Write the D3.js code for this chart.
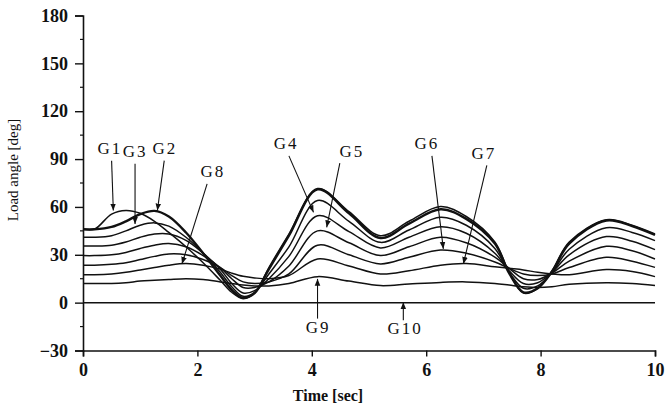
<!DOCTYPE html>
<html lang="en">
<head>
<meta charset="UTF-8">
<title>Load angle</title>
<style>
  body { margin: 0; background: #fff; }
  svg { display: block; }
  .tick text { font-family: 'Liberation Serif', serif; font-weight: bold; font-size: 18px; fill: #111; }
  .lbl { font-family: 'Liberation Serif', serif; font-size: 17px; fill: #111; letter-spacing: 2px; }
</style>
</head>
<body>
<svg id="chart" width="666" height="408"></svg>
<script src="https://d3js.org/d3.v7.min.js"></script>
<script>
// time grid (sec) for the read-off points
const times = [0, 0.2, 0.5, 0.75, 1.0, 1.25, 1.5, 1.8, 2.1, 2.4, 2.6, 2.8, 3.0, 3.25, 3.6, 4.1, 4.65, 5.2, 5.7, 6.25, 6.7, 7.2, 7.45, 7.7, 7.95, 8.2, 8.5, 9.15, 9.6, 10];

// load angle [deg] of each generator curve
const g1  = [46, 46, 55.5, 57.8, 56, 51, 44, 35, 25, 14, 6.5, 2.5, 6, 22, 43, 71.5, 57, 42, 51, 60.2, 54, 38, 19, 6, 9, 20, 38, 52, 48.5, 43];
const g2  = [46, 46, 47.5, 51, 55.5, 57.5, 54, 44, 31, 17, 8, 3, 6, 21, 42, 71, 56, 40.5, 49.5, 58.5, 52.5, 37, 18.5, 6.5, 9, 19.5, 37, 51.5, 48, 42.4];
const g3  = [41, 41, 42, 45, 48.5, 50, 48, 41, 31, 19, 10, 4, 6.5, 18, 35, 64, 51, 37.8, 45.5, 53.5, 48.5, 34, 19, 9, 10.5, 19, 33.5, 47, 44, 38.9];
const g4  = [35.5, 35.5, 36, 38, 41, 43, 43, 39, 31, 21, 12, 6, 7.5, 15, 29, 54.5, 44.5, 34.3, 41, 47.6, 43.5, 31, 20, 12, 12.5, 19, 30, 41.4, 38.5, 33.2];
const g5  = [29.5, 29.5, 30, 31.5, 34, 36, 37, 35, 29.5, 22, 15, 9.5, 9.5, 13, 23, 45, 37.5, 29.5, 35, 41, 37.5, 28.5, 21.5, 15, 14.5, 18.5, 26, 35.3, 32.5, 27.4];
const g6  = [23.5, 23.5, 24, 25, 27, 29, 30.5, 30, 27, 22, 17, 13, 12, 13, 18, 36, 30, 24.3, 28.5, 33, 31, 25.5, 21.5, 18, 17, 18, 22, 28.4, 26, 22.1];
const g8  = [17.5, 17.5, 18, 19, 20.5, 22, 23.5, 24.5, 23.5, 21, 18.5, 16.5, 15.5, 15, 17, 27.4, 23, 18, 20, 23.5, 24.5, 22.5, 21.5, 20.5, 19, 18, 17.5, 20.7, 19.5, 16.3];
const g9  = [12, 12, 12, 12.5, 13.5, 14, 14.5, 15, 14.5, 13, 12, 11, 10.5, 10.5, 12, 16.3, 13.5, 10.7, 11.7, 12.7, 13, 12, 11, 10, 9.5, 10, 11.5, 12.5, 12, 10.7];
const g10 = [0, 0, 0, 0, 0, 0, 0, 0, 0, 0, 0, 0, 0, 0, 0, 0, 0, 0, 0, 0, 0, 0, 0, 0, 0, 0, 0, 0, 0, 0];

const seriesList = [g10, g9, g8, g6, g5, g4, g3, g1, g2];
const thickSeries = [g2];

const xTicks = [0, 2, 4, 6, 8, 10];
const yTicks = [-30, 0, 30, 60, 90, 120, 150, 180];

// labels: text, label position (t, deg), arrow from (t, deg) to tip (t, deg)
const labels = ["G1", "G3", "G2", "G8", "G4", "G5", "G6", "G7", "G9", "G10"];
const labelPos = [[0.47, 95.5], [0.91, 93.5], [1.43, 95.5], [2.27, 81], [3.55, 98.5], [4.7, 94], [6.01, 98.5], [7.01, 92.2], [4.11, -16.5], [5.63, -17.5]];
const arrowFrom = [[0.5, 89], [0.91, 87], [1.42, 89], [2.17, 74.5], [3.6, 92], [4.49, 87.5], [6.1, 92], [7.06, 86], [4.1, -10], [5.6, -11]];
const arrowTip = [[0.53, 57.7], [0.91, 49.3], [1.3, 57.7], [1.73, 24.3], [4.03, 56.6], [4.26, 47.2], [6.3, 33.7], [6.65, 24.3], [4.1, 14.9], [5.6, 0.3]];

const svg = d3.select("#chart");
const x = d3.scaleLinear().domain([0, 10]).range([83, 655]);
const y = d3.scaleLinear().domain([-30, 180]).range([350.5, 15.5]);

// axes
const xAxis = d3.axisBottom(x).tickValues(xTicks).tickSize(6).tickPadding(4).tickFormat(d3.format("d"));
const yAxis = d3.axisLeft(y).tickValues(yTicks).tickSize(8).tickPadding(7).tickFormat(d3.format("d"));

const gx = svg.append("g").attr("transform", `translate(0,${y(-30)})`).call(xAxis);
const gy = svg.append("g").attr("transform", `translate(${x(0)},0)`).call(yAxis);
[gx, gy].forEach(g => {
  g.select(".domain").attr("stroke", "#111").attr("stroke-width", 1.6);
  g.selectAll(".tick line").attr("stroke", "#111").attr("stroke-width", 1.4);
});
gx.selectAll(".tick text").attr("dy", "0.85em");

// minor ticks
const minorY = d3.range(-15, 180, 30);
svg.append("g").selectAll("line").data(minorY).join("line")
  .attr("x1", x(0) - 3).attr("x2", x(0)).attr("y1", d => y(d)).attr("y2", d => y(d))
  .attr("stroke", "#111").attr("stroke-width", 1.2);

// curves
const line = d3.line().x((d, i) => x(times[i])).y(d => y(d)).curve(d3.curveCatmullRom.alpha(0.5));
svg.append("g").selectAll("path").data(seriesList).join("path")
  .attr("d", line)
  .attr("fill", "none")
  .attr("stroke", "#111")
  .attr("stroke-width", d => thickSeries.includes(d) ? 2.4 : 1.5);

// arrows
svg.append("defs").append("marker")
  .attr("id", "ah").attr("viewBox", "0 0 10 10").attr("refX", 10).attr("refY", 5)
  .attr("markerWidth", 7).attr("markerHeight", 7).attr("markerUnits", "userSpaceOnUse")
  .attr("orient", "auto")
  .append("path").attr("d", "M0,1 L10,5 L0,9 Z").attr("fill", "#111");

svg.append("g").selectAll("line").data(labels).join("line")
  .attr("x1", (d, i) => x(arrowFrom[i][0])).attr("y1", (d, i) => y(arrowFrom[i][1]))
  .attr("x2", (d, i) => x(arrowTip[i][0])).attr("y2", (d, i) => y(arrowTip[i][1]))
  .attr("stroke", "#111").attr("stroke-width", 1.1)
  .attr("marker-end", "url(#ah)");

svg.append("g").selectAll("text").data(labels).join("text")
  .attr("class", "lbl")
  .attr("x", (d, i) => x(labelPos[i][0])).attr("y", (d, i) => y(labelPos[i][1]))
  .attr("text-anchor", "middle").attr("dominant-baseline", "middle")
  .text(d => d);

// axis titles
svg.append("text")
  .attr("transform", "translate(18,170) rotate(-90)")
  .attr("text-anchor", "middle")
  .style("font-family", "'Liberation Serif', serif").style("font-size", "15px").style("fill", "#111")
  .text("Load angle [deg]");

svg.append("text")
  .attr("x", 328).attr("y", 401)
  .attr("text-anchor", "middle")
  .style("font-family", "'Liberation Serif', serif").style("font-size", "16px").style("font-weight", "bold").style("fill", "#111")
  .text("Time [sec]");
</script>
</body>
</html>
